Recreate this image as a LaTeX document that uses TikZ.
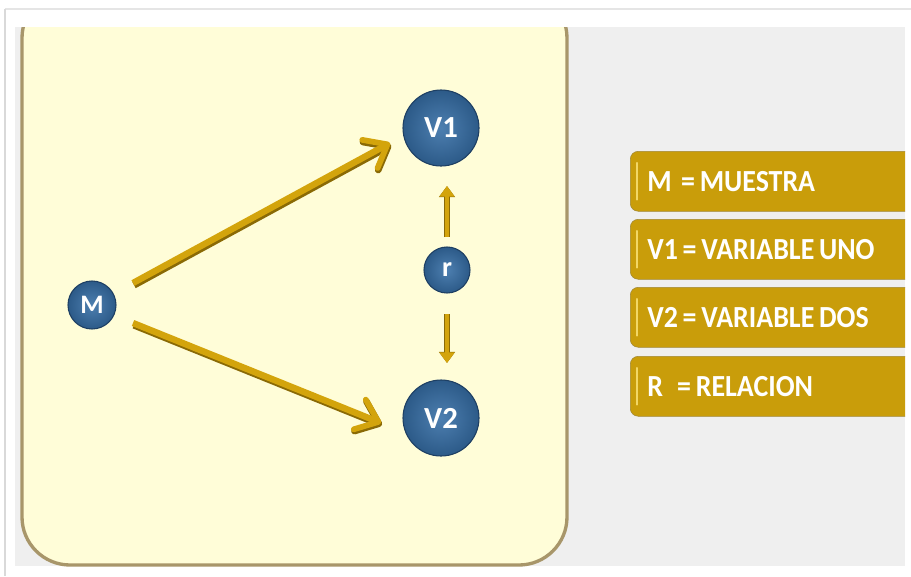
\documentclass[tikz,border=0pt]{standalone}
\usepackage{fontspec}
\setmainfont{Carlito}
\usetikzlibrary{arrows.meta}
\definecolor{panelfill}{HTML}{FFFDD8}
\definecolor{panelline}{HTML}{A8966A}
\definecolor{bggray}{HTML}{EFEFEF}
\definecolor{gold}{HTML}{C99D0A}
\definecolor{goldlight}{HTML}{F2D766}
\definecolor{goldarrowc}{HTML}{D3A40C}
\definecolor{golddark}{HTML}{8A6A05}
\definecolor{ballblue}{HTML}{2C5A88}
\definecolor{balllight}{HTML}{4D7FB0}
\definecolor{ballrim}{HTML}{1E3F63}
\newcommand{\legtext}[1]{\scalebox{0.91}[1]{\spaceskip=0.17em\relax #1}}
\begin{document}
\begin{tikzpicture}[x=0.75pt,y=-0.75pt,
  ball/.style={circle,inner sep=0pt,minimum size=#1,draw=ballrim,line width=0.8pt,
    inner color=balllight,outer color=ballblue,text=white},
  goldarrow/.style={draw=goldarrowc,line width=4.8pt,-{Straight Barb[length=15pt,width=24pt,line width=4.3pt,round]}},
  goldshadow/.style={draw=golddark,line width=5.4pt,-{Straight Barb[length=15pt,width=24pt,line width=4.9pt,round]}},
  smallarrow/.style={draw=goldarrowc,line width=3.4pt,-{Triangle[length=8pt,width=11pt]}},
  smallshadow/.style={draw=golddark,line width=4pt,-{Triangle[length=8.3pt,width=11.6pt]}},
  legend/.style={draw=golddark!80,fill=gold,rounded corners=6pt,minimum width=280*0.75pt,
    minimum height=60*0.75pt,anchor=north west,text=white,font=\fontsize{23}{26}\selectfont\bfseries,
    text width=254*0.75pt,align=left,inner xsep=17*0.75pt},
  shine/.style={draw=goldlight,line width=1.6pt,line cap=round}]
\useasboundingbox (0,0) rectangle (911,576);
\fill[white] (0,0) rectangle (911,576);
\draw[black!10,line width=0.8pt] (5,9) -- (911,9);
\draw[black!15,line width=1pt] (5,9) -- (5,576);
\fill[bggray] (15,27) rectangle (905,566);
\begin{scope}
\clip (14,27) rectangle (620,570);
\draw[panelline,line width=2.5pt,fill=panelfill,rounded corners=48*0.75pt] (22,-10) rectangle (567,565);
\end{scope}
\node[ball=76*0.75pt,font=\fontsize{23}{26}\selectfont\bfseries] (V1) at (441,128) {V1};
\node[ball=76*0.75pt,font=\fontsize{23}{26}\selectfont\bfseries] (V2) at (441,418) {V2};
\node[ball=48*0.75pt,font=\fontsize{20}{22}\selectfont\bfseries] (M) at (92,305) {M};
\node[ball=46*0.75pt,font=\fontsize{21}{22}\selectfont\bfseries] (r) at (447,270) {r};
\coordinate (a1) at (133,283);
\coordinate (a2) at (133,323);
\coordinate (t1) at (390,143);
\coordinate (t2) at (381,423);
\coordinate (a1s) at (134,285);
\coordinate (a2s) at (134,325);
\coordinate (t1s) at (391,145);
\coordinate (t2s) at (382,425);
\draw[goldshadow] (a1s) -- (t1s);
\draw[goldshadow] (a2s) -- (t2s);
\draw[goldarrow] (a1) -- (t1);
\draw[goldarrow] (a2) -- (t2);
\coordinate (u0) at (447,237);
\coordinate (u1) at (447,186);
\coordinate (d0) at (447,314);
\coordinate (d1) at (447,363);
\draw[smallshadow] (u0) -- (u1);
\draw[smallshadow] (d0) -- (d1);
\draw[smallarrow] (u0) -- (u1);
\draw[smallarrow] (d0) -- (d1);
\begin{scope}
\clip (620,140) rectangle (905,430);
\node[legend] (L1) at (630,151) {\legtext{M\ \ = MUESTRA}};
\node[legend] (L2) at (630,219) {\legtext{V1 = VARIABLE UNO}};
\node[legend] (L3) at (630,287) {\legtext{V2 = VARIABLE DOS}};
\node[legend] (L4) at (630,356) {\legtext{R\ \ \ = RELACION}};
\foreach \n in {L1,L2,L3,L4}{
  \draw[shine] ([xshift=5pt,yshift=-9pt]\n.north west) -- ([xshift=5pt,yshift=9pt]\n.south west);
}
\end{scope}
\end{tikzpicture}
\end{document}
